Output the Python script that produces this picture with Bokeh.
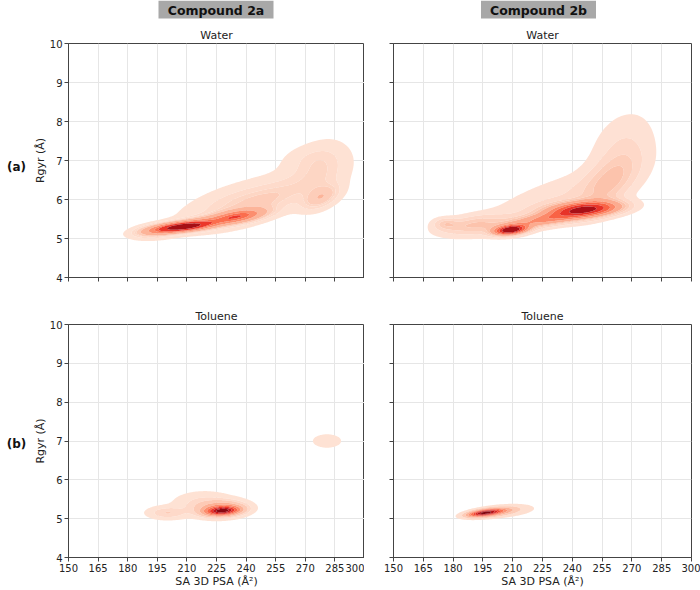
import numpy as np
from bokeh.plotting import figure
from bokeh.layouts import column, row
from bokeh.models import Title
from bokeh.core.properties import value
from bokeh.embed import file_html
from bokeh.resources import INLINE

# axis ticks
x_ticks = [150, 165, 180, 195, 210, 225, 240, 255, 270, 285, 300]
y_ticks = [4, 5, 6, 7, 8, 9, 10]
compounds = ["Compound 2a", "Compound 2b"]
row_tags = ["(a)", "(b)"]
solvents = ["Water", "Toluene"]

# Each panel's distribution is described by a few Gaussian components:
# centre (x, y), spread (sx, sy), correlation (rho) and weight (w).
water_2a_x = [208, 236, 220, 194, 250, 278, 278, 240, 232, 272]
water_2a_y = [5.30, 5.57, 5.42, 5.18, 5.95, 6.05, 6.70, 5.95, 5.95, 7.05]
water_2a_sx = [9, 8, 15, 7, 16, 6, 9, 26, 14, 10]
water_2a_sy = [0.09, 0.12, 0.15, 0.11, 0.40, 0.20, 0.50, 0.55, 0.30, 0.25]
water_2a_rho = [0.5, 0.5, 0.75, 0.3, 0.75, 0.5, 0.3, 0.75, 0.6, 0.2]
water_2a_w = [0.25, 0.12, 0.13, 0.04, 0.11, 0.05, 0.10, 0.15, 0.04, 0.03]

water_2b_x = [209, 246, 228, 190, 258, 265, 230, 176]
water_2b_y = [5.22, 5.75, 5.50, 5.35, 6.40, 7.30, 5.95, 5.38]
water_2b_sx = [5, 11, 14, 11, 10, 10, 24, 4]
water_2b_sy = [0.08, 0.13, 0.15, 0.17, 0.50, 0.60, 0.55, 0.10]
water_2b_rho = [0.3, 0.3, 0.7, 0.4, 0.6, 0.3, 0.75, 0.0]
water_2b_w = [0.10, 0.27, 0.13, 0.06, 0.13, 0.09, 0.13, 0.01]

toluene_2a_x = [228, 228, 219, 200, 281]
toluene_2a_y = [5.20, 5.25, 5.38, 5.15, 7.00]
toluene_2a_sx = [5, 7, 9, 6, 7]
toluene_2a_sy = [0.07, 0.12, 0.18, 0.10, 0.17]
toluene_2a_rho = [0.2, 0.1, 0.0, 0.0, 0.0]
toluene_2a_w = [0.35, 0.35, 0.15, 0.07, 0.035]

toluene_2b_x = [196, 200, 209]
toluene_2b_y = [5.15, 5.17, 5.20]
toluene_2b_sx = [5, 8, 9]
toluene_2b_sy = [0.06, 0.09, 0.11]
toluene_2b_rho = [0.5, 0.5, 0.3]
toluene_2b_w = [0.5, 0.4, 0.1]

# colorbrewer "Reds" anchors, light to dark
reds = ["#fff5f0", "#fee0d2", "#fcbba1", "#fc9272", "#fb6a4a",
        "#ef3b2c", "#cb181d", "#a50f15", "#67000d"]

FONT = "DejaVu Sans"
TAG_W = 30            # strip holding the row tags
LEFT_W, RIGHT_W = 334, 336
HEAD_H = 20           # strip holding the compound headers
TOP_H, BOT_H = 265, 305

GX = np.linspace(140, 310, 341)
GY = np.linspace(3.5, 10.5, 281)
XX, YY = np.meshgrid(GX, GY)


def mixture(cx, cy, sx, sy, rho, w):
    z = np.zeros_like(XX)
    for mx, my, s1, s2, r, wt in zip(cx, cy, sx, sy, rho, w):
        dx = (XX - mx) / s1
        dy = (YY - my) / s2
        q = (dx * dx - 2 * r * dx * dy + dy * dy) / (1 - r * r)
        z += wt * np.exp(-0.5 * q) / (2 * np.pi * s1 * s2 * np.sqrt(1 - r * r))
    return z


def iso_levels(z, n=10, thresh=0.05):
    # density values enclosing fixed proportions of the total mass
    flat = np.sort(z.ravel())[::-1]
    cum = np.cumsum(flat) / flat.sum()
    props = np.linspace(thresh, 1, n)
    idx = np.clip(np.searchsorted(cum, 1 - props), 0, len(flat) - 1)
    return np.unique(flat[idx])


def reds_at(t):
    t = min(max(t, 0.0), 1.0) * (len(reds) - 1)
    i = min(int(t), len(reds) - 2)
    f = t - i
    a = [int(reds[i][k:k + 2], 16) for k in (1, 3, 5)]
    b = [int(reds[i + 1][k:k + 2], 16) for k in (1, 3, 5)]
    c = [round(a[j] + (b[j] - a[j]) * f) for j in range(3)]
    return "#%02x%02x%02x" % tuple(c)


def header_strip():
    s = figure(width=TAG_W + LEFT_W + RIGHT_W, height=HEAD_H,
               x_range=(0, TAG_W + LEFT_W + RIGHT_W), y_range=(HEAD_H, 0),
               output_backend="svg", toolbar_location=None,
               min_border=0, outline_line_color=None)
    s.axis.visible = False
    s.grid.visible = False
    cx = [TAG_W + 37 + 297 / 2, TAG_W + LEFT_W + 29 + 298 / 2 - 4]
    s.rect(x=cx, y=[9, 9], width=115, height=18, fill_color="#a8a8a8",
           line_color=None)
    s.text(x=cx, y=[9.5, 9.5], text=compounds, text_font=value(FONT),
           text_font_size="12.5px", text_font_style="bold", text_align="center",
           text_baseline="middle", text_color="#111111")
    return s


def row_tag(text, height, frame_top, frame_bottom):
    s = figure(width=TAG_W, height=height, x_range=(0, TAG_W), y_range=(height, 0),
               output_backend="svg", toolbar_location=None,
               min_border=0, outline_line_color=None)
    s.axis.visible = False
    s.grid.visible = False
    s.text(x=[16], y=[(frame_top + frame_bottom) / 2], text=[text],
           text_font=value(FONT), text_font_size="12px", text_font_style="bold",
           text_align="center", text_baseline="middle", text_color="#111111")
    return s


def panel(comp, title, width, height, borders, ylab=True, xlab=True):
    left, right, top, bottom = borders
    p = figure(width=width, height=height, x_range=(150, 300), y_range=(4, 10),
               output_backend="svg", toolbar_location=None, title=None,
               min_border_left=left, min_border_right=right,
               min_border_top=top, min_border_bottom=bottom,
               background_fill_color="white", border_fill_color="white")
    z = mixture(*comp)
    lv = iso_levels(z)
    mids = (lv[:-1] + lv[1:]) / 2
    cols = [reds_at(0.1 + 0.9 * (m - lv[0]) / (lv[-1] - lv[0])) for m in mids]
    p.contour(XX, YY, z, levels=list(lv), fill_color=cols, line_color=None)

    p.add_layout(Title(text=title, align="center", text_font=FONT,
                       text_font_size="11px", text_font_style="normal",
                       text_color="#222222", standoff=3), "above")

    for ax, ticks in ((p.xaxis, x_ticks), (p.yaxis, y_ticks)):
        ax.ticker = ticks
        ax.minor_tick_line_color = None
        ax.major_tick_in = 0
        ax.major_tick_out = 4
        ax.axis_line_color = "#444444"
        ax.major_tick_line_color = "#444444"
        ax.major_label_text_font = FONT
        ax.major_label_text_font_size = "10px"
        ax.major_label_text_color = "#222222"
        ax.axis_label_text_font = FONT
        ax.axis_label_text_font_size = "11px"
        ax.axis_label_text_font_style = "normal"
        ax.axis_label_text_color = "#222222"
        ax.major_label_standoff = 2
        ax.axis_label_standoff = 0
    if xlab:
        p.xaxis.axis_label = "SA 3D PSA (Å²)"
    else:
        p.xaxis.major_label_text_color = None
        p.xaxis.major_label_standoff = 0
    if ylab:
        p.yaxis.axis_label = "Rgyr (Å)"
    else:
        p.yaxis.major_label_text_color = None
        p.yaxis.major_label_standoff = 0

    p.xgrid.ticker = x_ticks
    p.ygrid.ticker = y_ticks
    for g in (p.xgrid, p.ygrid):
        g.grid_line_color = "#e6e6e6"
        g.grid_line_width = 1
    p.outline_line_color = "#444444"
    p.outline_line_width = 1
    return p


tl = panel((water_2a_x, water_2a_y, water_2a_sx, water_2a_sy, water_2a_rho, water_2a_w),
           solvents[0], LEFT_W, TOP_H, (37, 0, 23, 8), ylab=True, xlab=False)
tr = panel((water_2b_x, water_2b_y, water_2b_sx, water_2b_sy, water_2b_rho, water_2b_w),
           solvents[0], RIGHT_W, TOP_H, (29, 9, 23, 8), ylab=False, xlab=False)
bl = panel((toluene_2a_x, toluene_2a_y, toluene_2a_sx, toluene_2a_sy, toluene_2a_rho, toluene_2a_w),
           solvents[1], LEFT_W, BOT_H, (37, 0, 39, 32), ylab=True, xlab=True)
br = panel((toluene_2b_x, toluene_2b_y, toluene_2b_sx, toluene_2b_sy, toluene_2b_rho, toluene_2b_w),
           solvents[1], RIGHT_W, BOT_H, (29, 9, 39, 32), ylab=False, xlab=True)

tag_a = row_tag(row_tags[0], TOP_H, 23, 257)
tag_b = row_tag(row_tags[1], BOT_H, 39, 273)

layout = column(header_strip(), row(tag_a, tl, tr), row(tag_b, bl, br))
open("out.html", "w").write(file_html(layout, INLINE))
